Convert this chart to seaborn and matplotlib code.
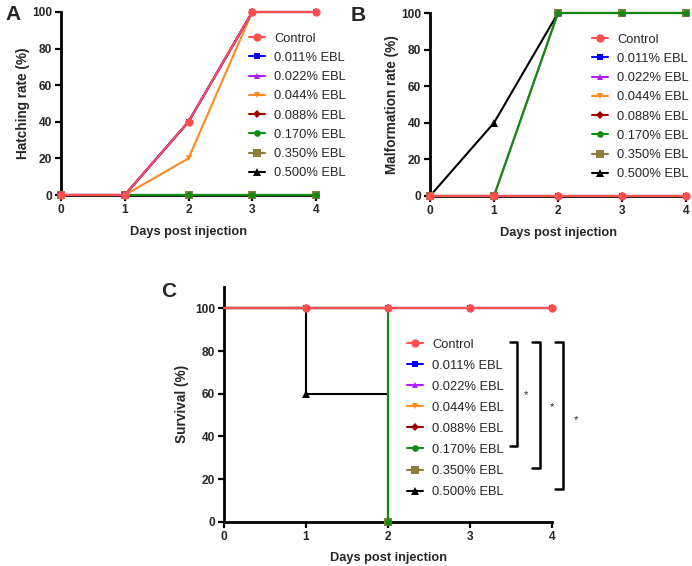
import numpy as np
import pandas as pd
import matplotlib
matplotlib.use("Agg")
import matplotlib.pyplot as plt
from matplotlib.lines import Line2D
import seaborn as sns

sns.set_style("ticks")
plt.rcParams['font.family'] = ['Liberation Sans', 'DejaVu Sans']

days = [0, 1, 2, 3, 4]
groups = ["Control", "0.011% EBL", "0.022% EBL", "0.044% EBL",
          "0.088% EBL", "0.170% EBL", "0.350% EBL", "0.500% EBL"]
colors = ["#FF4F4F", "#0000FF", "#B31AFF", "#FF8A1F",
          "#A00000", "#138A13", "#8C7E3C", "#000000"]
markers = ["o", "s", "^", "v", "D", "o", "s", "^"]
msizes = [6, 4.8, 4.4, 4.4, 3.6, 4.8, 6.3, 6]

hatching = {
    "Control":    [0, 0, 40, 100, 100],
    "0.011% EBL": [0, 0, 40, 100, 100],
    "0.022% EBL": [0, 0, 40, 100, 100],
    "0.044% EBL": [0, 0, 20, 100, 100],
    "0.088% EBL": [0, 0, 40, 100, 100],
    "0.170% EBL": [0, 0, 0, 0, 0],
    "0.350% EBL": [0, 0, 0, 0, 0],
    "0.500% EBL": [0, 0, 0, 0, 0],
}
malformation = {
    "Control":    [0, 0, 0, 0, 0],
    "0.011% EBL": [0, 0, 0, 0, 0],
    "0.022% EBL": [0, 0, 0, 0, 0],
    "0.044% EBL": [0, 0, 0, 0, 0],
    "0.088% EBL": [0, 0, 0, 0, 0],
    "0.170% EBL": [0, 0, 100, 100, 100],
    "0.350% EBL": [0, 0, 100, 100, 100],
    "0.500% EBL": [0, 40, 100, 100, 100],
}
survival = {
    "Control":    [100, 100, 100, 100, 100],
    "0.011% EBL": [100, 100, 100, 100, 100],
    "0.022% EBL": [100, 100, 100, 100, 100],
    "0.044% EBL": [100, 100, 100, 100, 100],
    "0.088% EBL": [100, 100, 100, 100, 100],
    "0.170% EBL": [100, 100, 0, np.nan, np.nan],
    "0.350% EBL": [100, 100, 0, np.nan, np.nan],
    "0.500% EBL": [100, 60, 0, np.nan, np.nan],
}

W, H = 692, 566
fig = plt.figure(figsize=(W / 100, H / 100), dpi=100)

def rect(l, t, r, b):
    return [l / W, 1 - b / H, (r - l) / W, (b - t) / H]

axA = fig.add_axes(rect(61, 12, 316, 195))
axB = fig.add_axes(rect(430, 13, 686, 196))
axC = fig.add_axes(rect(224, 287, 552, 521.7))

TFS = 8.6

def style_axis(ax, ylabel, ymax, ypad):
    ax.set_xlim(0, 4)
    ax.set_ylim(0, ymax)
    ax.set_xticks(days)
    ax.set_yticks([0, 20, 40, 60, 80, 100])
    for s in ["top", "right"]:
        ax.spines[s].set_visible(False)
    for s in ["left", "bottom"]:
        ax.spines[s].set_linewidth(2.0)
        ax.spines[s].set_color("black")
    ax.tick_params(axis="both", direction="out", length=4, width=1.6,
                   color="black", labelsize=TFS, pad=2.5)
    for lab in ax.get_xticklabels() + ax.get_yticklabels():
        lab.set_fontweight("bold")
    ax.set_xlabel("Days post injection", fontsize=9.2, fontweight="bold", labelpad=7)
    ax.set_ylabel(ylabel, fontsize=9.8, fontweight="bold", labelpad=ypad)

step_marks = [[1, 2, 3, 4]] * 5 + [[2], [2], [1, 2]]

def draw(ax, data, steps=False):
    n = len(groups)
    for i, g in enumerate(groups):
        kw = dict(color=colors[i], marker=markers[i], markersize=msizes[i],
                  markeredgewidth=0, linewidth=1.5, zorder=10 + (n - i),
                  clip_on=False)
        if steps:
            kw["drawstyle"] = "steps-post"
            kw["markevery"] = step_marks[i]
        df = pd.DataFrame({"day": days, "val": data[g]}).dropna()
        sns.lineplot(data=df, x="day", y="val", ax=ax, legend=False,
                     estimator=None, sort=False, **kw)

draw(axA, hatching)
draw(axB, malformation)
draw(axC, survival, steps=True)

style_axis(axA, "Hatching rate (%)", 100, 1.5)
style_axis(axB, "Malformation rate (%)", 100, 1.5)
style_axis(axC, "Survival (%)", 110, 4)

handles = [Line2D([0], [0], color=colors[i], marker=markers[i],
                  markersize=msizes[i], markeredgewidth=0, linewidth=1.5)
           for i in range(len(groups))]

def add_legend(x, y, spacing):
    fig.legend(handles, groups, loc="upper left",
               bbox_to_anchor=(x / W, 1 - y / H), bbox_transform=fig.transFigure,
               frameon=False, fontsize=9.3, handlelength=1.25,
               handletextpad=0.7, borderpad=0, borderaxespad=0,
               labelspacing=spacing)

add_legend(249, 32.5, 0.56)
add_legend(592, 33.5, 0.56)
add_legend(407, 338.5, 0.7)

fig.text(5 / W, 1 - 20 / H, "A", fontsize=15, fontweight="bold", va="baseline")
fig.text(351 / W, 1 - 21 / H, "B", fontsize=15, fontweight="bold", va="baseline")
fig.text(161 / W, 1 - 297 / H, "C", fontsize=15, fontweight="bold", va="baseline")

# significance brackets (figure pixel coordinates)
brackets = [(510, 517, 342, 446, 526, 395),
            (532, 540, 342, 468, 552, 407),
            (555, 563, 342, 489, 576, 420)]
for x0, x1, y0, y1, sx, sy in brackets:
    xs = [x0 / W, x1 / W, x1 / W, x0 / W]
    ys = [1 - y0 / H, 1 - y0 / H, 1 - y1 / H, 1 - y1 / H]
    fig.add_artist(Line2D(xs, ys, color="black", linewidth=1.8,
                          transform=fig.transFigure))
    fig.text(sx / W, 1 - sy / H, "*", fontsize=8, ha="center", va="center")

fig.savefig("out.png", dpi=100)
